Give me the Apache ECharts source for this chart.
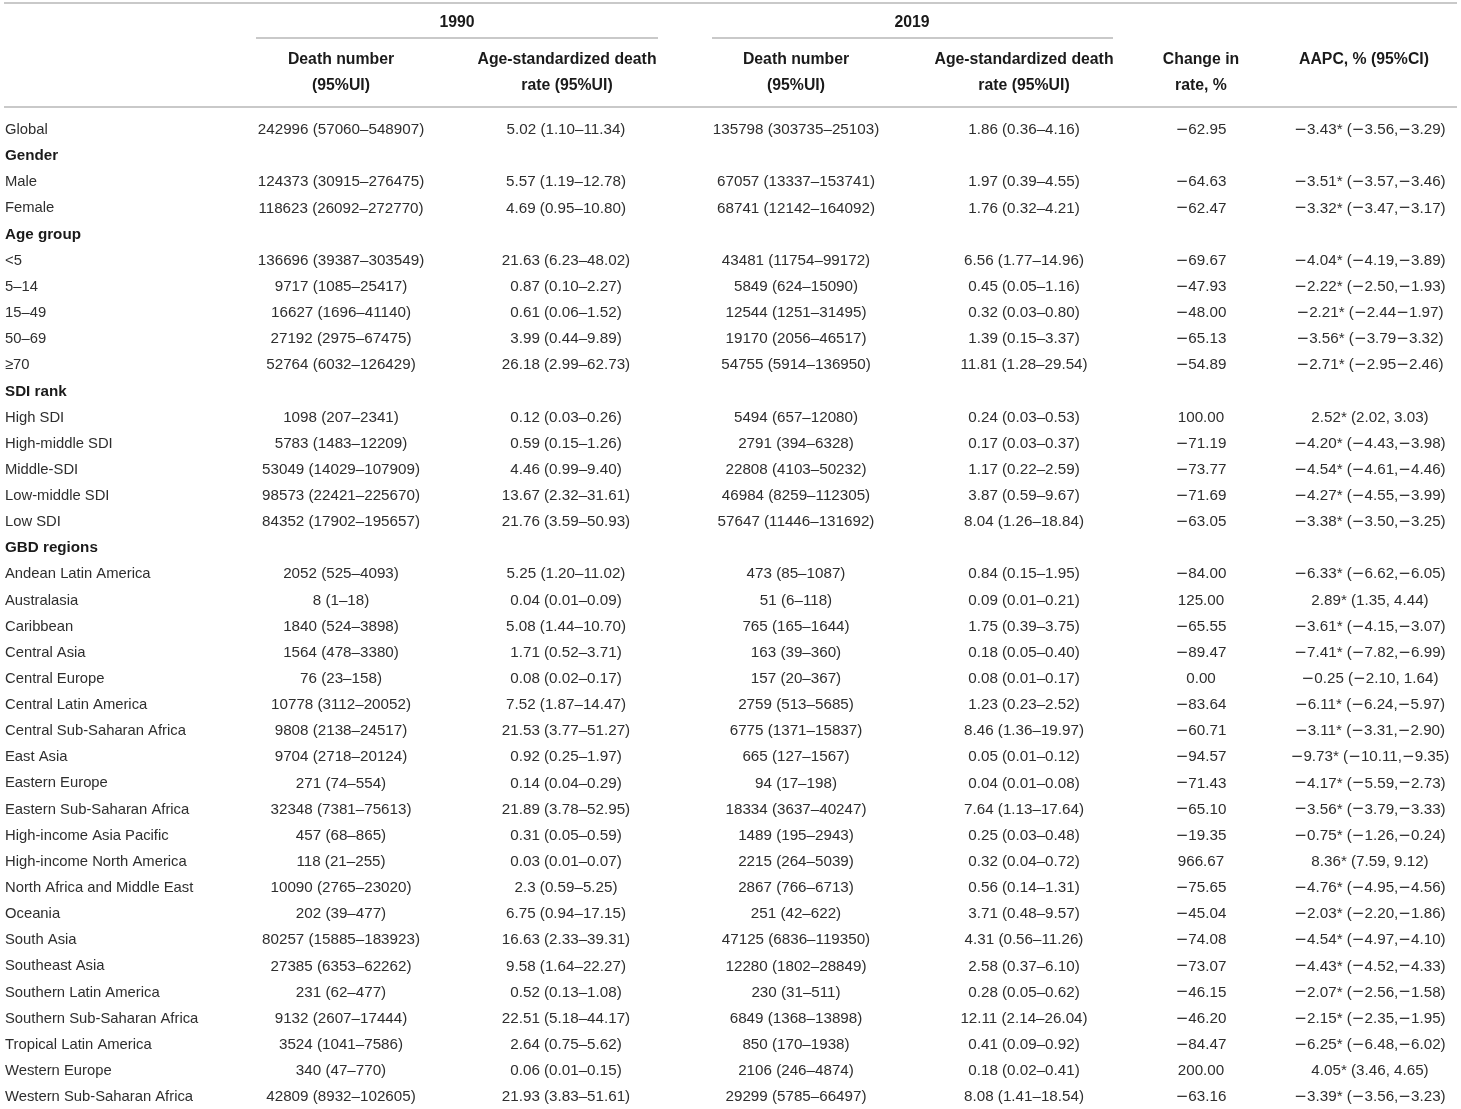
<!DOCTYPE html>
<html>
<head>
<meta charset="utf-8">
<script src="https://cdn.jsdelivr.net/npm/echarts@6/dist/echarts.min.js"></script>
<style>
html,body{margin:0;padding:0;background:#fff;}
#main{width:1461px;height:1109px;}
</style>
</head>
<body>
<div id="main"></div>
<script>
// ---- Data ----
const rowLabels = ["Global","Gender","Male","Female","Age group","<5","5–14","15–49","50–69","≥70","SDI rank","High SDI","High-middle SDI","Middle-SDI","Low-middle SDI","Low SDI","GBD regions","Andean Latin America","Australasia","Caribbean","Central Asia","Central Europe","Central Latin America","Central Sub-Saharan Africa","East Asia","Eastern Europe","Eastern Sub-Saharan Africa","High-income Asia Pacific","High-income North America","North Africa and Middle East","Oceania","South Asia","Southeast Asia","Southern Latin America","Southern Sub-Saharan Africa","Tropical Latin America","Western Europe","Western Sub-Saharan Africa"];
const headingRows = ["Gender","Age group","SDI rank","GBD regions"];

const deaths1990 = ["242996 (57060–548907)","","124373 (30915–276475)","118623 (26092–272770)","","136696 (39387–303549)","9717 (1085–25417)","16627 (1696–41140)","27192 (2975–67475)","52764 (6032–126429)","","1098 (207–2341)","5783 (1483–12209)","53049 (14029–107909)","98573 (22421–225670)","84352 (17902–195657)","","2052 (525–4093)","8 (1–18)","1840 (524–3898)","1564 (478–3380)","76 (23–158)","10778 (3112–20052)","9808 (2138–24517)","9704 (2718–20124)","271 (74–554)","32348 (7381–75613)","457 (68–865)","118 (21–255)","10090 (2765–23020)","202 (39–477)","80257 (15885–183923)","27385 (6353–62262)","231 (62–477)","9132 (2607–17444)","3524 (1041–7586)","340 (47–770)","42809 (8932–102605)"];
const rate1990 = ["5.02 (1.10–11.34)","","5.57 (1.19–12.78)","4.69 (0.95–10.80)","","21.63 (6.23–48.02)","0.87 (0.10–2.27)","0.61 (0.06–1.52)","3.99 (0.44–9.89)","26.18 (2.99–62.73)","","0.12 (0.03–0.26)","0.59 (0.15–1.26)","4.46 (0.99–9.40)","13.67 (2.32–31.61)","21.76 (3.59–50.93)","","5.25 (1.20–11.02)","0.04 (0.01–0.09)","5.08 (1.44–10.70)","1.71 (0.52–3.71)","0.08 (0.02–0.17)","7.52 (1.87–14.47)","21.53 (3.77–51.27)","0.92 (0.25–1.97)","0.14 (0.04–0.29)","21.89 (3.78–52.95)","0.31 (0.05–0.59)","0.03 (0.01–0.07)","2.3 (0.59–5.25)","6.75 (0.94–17.15)","16.63 (2.33–39.31)","9.58 (1.64–22.27)","0.52 (0.13–1.08)","22.51 (5.18–44.17)","2.64 (0.75–5.62)","0.06 (0.01–0.15)","21.93 (3.83–51.61)"];
const deaths2019 = ["135798 (303735–25103)","","67057 (13337–153741)","68741 (12142–164092)","","43481 (11754–99172)","5849 (624–15090)","12544 (1251–31495)","19170 (2056–46517)","54755 (5914–136950)","","5494 (657–12080)","2791 (394–6328)","22808 (4103–50232)","46984 (8259–112305)","57647 (11446–131692)","","473 (85–1087)","51 (6–118)","765 (165–1644)","163 (39–360)","157 (20–367)","2759 (513–5685)","6775 (1371–15837)","665 (127–1567)","94 (17–198)","18334 (3637–40247)","1489 (195–2943)","2215 (264–5039)","2867 (766–6713)","251 (42–622)","47125 (6836–119350)","12280 (1802–28849)","230 (31–511)","6849 (1368–13898)","850 (170–1938)","2106 (246–4874)","29299 (5785–66497)"];
const rate2019 = ["1.86 (0.36–4.16)","","1.97 (0.39–4.55)","1.76 (0.32–4.21)","","6.56 (1.77–14.96)","0.45 (0.05–1.16)","0.32 (0.03–0.80)","1.39 (0.15–3.37)","11.81 (1.28–29.54)","","0.24 (0.03–0.53)","0.17 (0.03–0.37)","1.17 (0.22–2.59)","3.87 (0.59–9.67)","8.04 (1.26–18.84)","","0.84 (0.15–1.95)","0.09 (0.01–0.21)","1.75 (0.39–3.75)","0.18 (0.05–0.40)","0.08 (0.01–0.17)","1.23 (0.23–2.52)","8.46 (1.36–19.97)","0.05 (0.01–0.12)","0.04 (0.01–0.08)","7.64 (1.13–17.64)","0.25 (0.03–0.48)","0.32 (0.04–0.72)","0.56 (0.14–1.31)","3.71 (0.48–9.57)","4.31 (0.56–11.26)","2.58 (0.37–6.10)","0.28 (0.05–0.62)","12.11 (2.14–26.04)","0.41 (0.09–0.92)","0.18 (0.02–0.41)","8.08 (1.41–18.54)"];
const changeRate = ["−62.95","","−64.63","−62.47","","−69.67","−47.93","−48.00","−65.13","−54.89","","100.00","−71.19","−73.77","−71.69","−63.05","","−84.00","125.00","−65.55","−89.47","0.00","−83.64","−60.71","−94.57","−71.43","−65.10","−19.35","966.67","−75.65","−45.04","−74.08","−73.07","−46.15","−46.20","−84.47","200.00","−63.16"];
const aapc = ["−3.43* (−3.56,−3.29)","","−3.51* (−3.57,−3.46)","−3.32* (−3.47,−3.17)","","−4.04* (−4.19,−3.89)","−2.22* (−2.50,−1.93)","−2.21* (−2.44−1.97)","−3.56* (−3.79−3.32)","−2.71* (−2.95−2.46)","","2.52* (2.02, 3.03)","−4.20* (−4.43,−3.98)","−4.54* (−4.61,−4.46)","−4.27* (−4.55,−3.99)","−3.38* (−3.50,−3.25)","","−6.33* (−6.62,−6.05)","2.89* (1.35, 4.44)","−3.61* (−4.15,−3.07)","−7.41* (−7.82,−6.99)","−0.25 (−2.10, 1.64)","−6.11* (−6.24,−5.97)","−3.11* (−3.31,−2.90)","−9.73* (−10.11,−9.35)","−4.17* (−5.59,−2.73)","−3.56* (−3.79,−3.33)","−0.75* (−1.26,−0.24)","8.36* (7.59, 9.12)","−4.76* (−4.95,−4.56)","−2.03* (−2.20,−1.86)","−4.54* (−4.97,−4.10)","−4.43* (−4.52,−4.33)","−2.07* (−2.56,−1.58)","−2.15* (−2.35,−1.95)","−6.25* (−6.48,−6.02)","4.05* (3.46, 4.65)","−3.39* (−3.56,−3.23)"];

const groupHeaders = ["1990","2019"];
const columnHeaders = [
  ["Death number","(95%UI)"],
  ["Age-standardized death","rate (95%UI)"],
  ["Death number","(95%UI)"],
  ["Age-standardized death","rate (95%UI)"],
  ["Change in","rate, %"],
  ["AAPC, % (95%CI)",""]
];

// ---- Layout (positions / styles) ----
const W = 1461, H = 1109;
const FAMILY = '"Liberation Sans", Arial, sans-serif';
const FS_DATA = 15.2;
const FS_LABEL = 14.8;
const FS_SECTION = 15.2;
const FS_HEAD = 15.8;
const colX = [5, 341, 566, 796, 1024, 1201, 1370];
const columns = [rowLabels, deaths1990, rate1990, deaths2019, rate2019, changeRate, aapc];

const cells = [];
for (let r = 0; r < rowLabels.length; r++) {
  for (let c = 0; c < columns.length; c++) {
    const t = columns[c][r];
    if (!t) continue;
    const bold = c === 0 && headingRows.indexOf(t) >= 0;
    cells.push({
      value: [colX[c], r],
      text: t,
      bold: bold,
      size: bold ? FS_SECTION : (c === 0 ? FS_LABEL : FS_DATA),
      align: c === 0 ? 'left' : 'center'
    });
  }
}

function richMinus(t) {
  return t.replace(/−/g, '{m|−}');
}

const RULE = '#c9c9c9';
const graphic = [];
function hline(x1, x2, y) {
  graphic.push({type:'line', shape:{x1:x1, y1:y, x2:x2, y2:y}, style:{stroke:RULE, lineWidth:2}, silent:true});
}
function htext(x, y, text) {
  graphic.push({type:'text', x:x, y:y, style:{text:text, align:'center', verticalAlign:'middle', fontSize:FS_HEAD, fontWeight:'bold', fontFamily:FAMILY, fill:'#1a1a1a'}, silent:true});
}
hline(4, 1457, 3);
hline(256, 658, 38);
hline(712, 1113, 38);
hline(4, 1457, 107);
htext(457, 23, groupHeaders[0]);
htext(912, 23, groupHeaders[1]);
const hdrX = [341, 567, 796, 1024, 1201, 1364];
columnHeaders.forEach(function (h, i) {
  htext(hdrX[i], 60, h[0]);
  if (h[1]) htext(hdrX[i], 86, h[1]);
});

const chart = echarts.init(document.getElementById('main'), null, {renderer:'canvas', width:W, height:H});
chart.setOption({
  backgroundColor: '#ffffff',
  animation: false,
  grid: {left: 0, right: 0, top: 130, bottom: 12, containLabel: false},
  xAxis: {type: 'value', min: 0, max: W, show: false},
  yAxis: {type: 'value', min: 0, max: rowLabels.length - 1, inverse: true, show: false},
  graphic: graphic,
  series: [{
    type: 'custom',
    coordinateSystem: 'cartesian2d',
    data: cells.map(function (c) { return c.value; }),
    renderItem: function (params, api) {
      const cell = cells[params.dataIndex];
      const p = api.coord([api.value(0), api.value(1)]);
      return {
        type: 'text',
        x: p[0],
        y: p[1],
        style: {
          text: richMinus(cell.text),
          align: cell.align,
          verticalAlign: 'middle',
          fontSize: cell.size,
          fontWeight: cell.bold ? 'bold' : 'normal',
          fontFamily: FAMILY,
          fill: cell.bold ? '#1a1a1a' : '#2e2e2e',
          rich: {
            m: {fontFamily: '"DejaVu Sans"', fontSize: cell.size, fill: '#2e2e2e'}
          }
        }
      };
    },
    silent: true
  }]
});
</script>
</body>
</html>
